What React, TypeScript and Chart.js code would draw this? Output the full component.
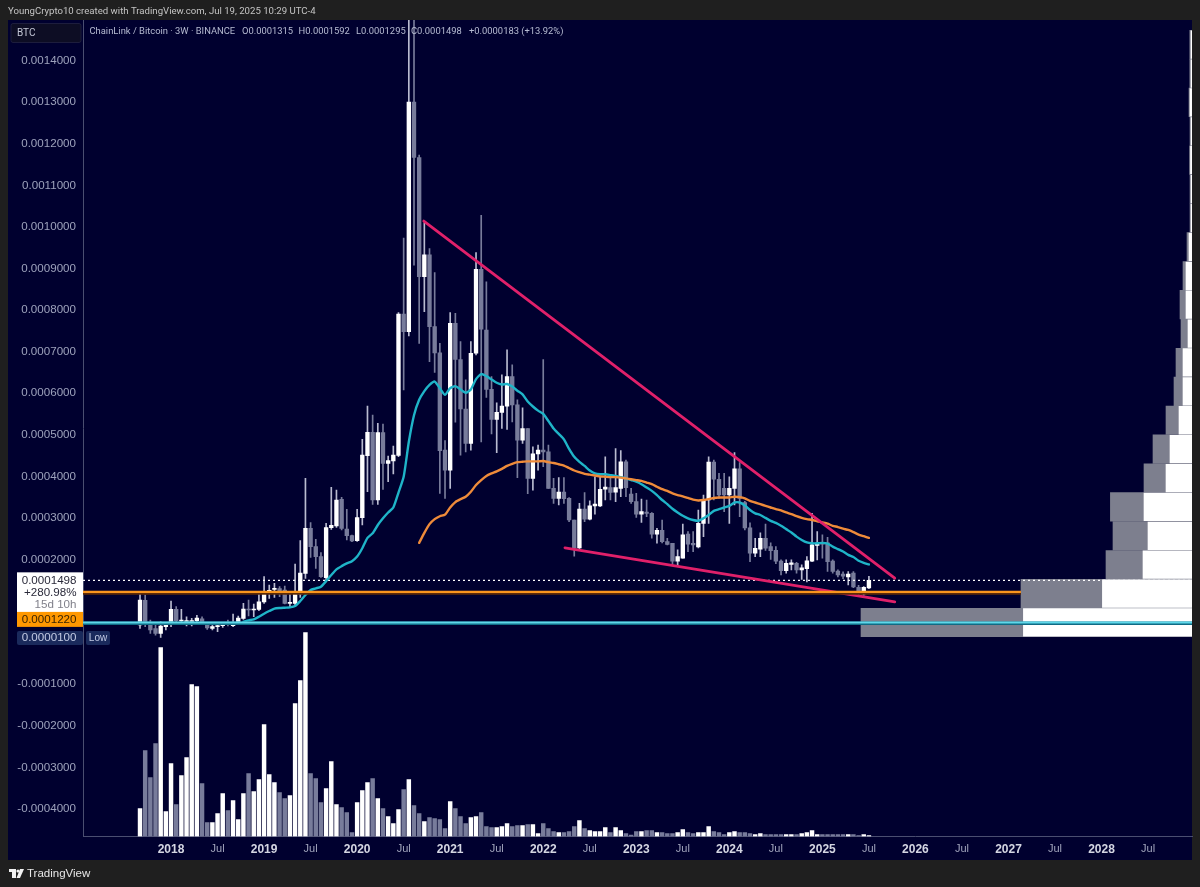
import React, { useEffect, useRef } from "react";
import { Chart, registerables } from "chart.js";

Chart.register(...registerables);

// all prices are in units of 0.0001 BTC, one entry per 3W candle
const opens = [
    0.423, 1.016, 0.447, 0.335, 0.223, 0.383, 0.463, 0.8, 0.519, 0.503,
    0.503, 0.527, 0.575, 0.447, 0.343, 0.383, 0.407, 0.463, 0.407, 0.503,
    0.584, 0.808, 0.784, 0.8, 0.976, 1.233, 1.281, 1.297, 1.265, 0.944,
    0.944, 1.169, 1.666, 2.749, 2.308, 2.067, 1.562, 2.765, 2.805, 3.446,
    2.733, 2.572, 2.452, 3.005, 4.497, 5.058, 3.43, 5.05, 4.312, 4.369,
    4.5, 7.9, 7.48, 13.0, 11.67, 8.8, 9.33, 7.6, 6.97, 4.63,
    4.15, 7.68, 6.81, 5.62, 4.79, 6.96, 8.98, 7.52, 6.09, 5.37,
    5.54, 5.69, 6.4, 5.72, 4.87, 5.15, 3.95, 4.54, 4.63, 4.59,
    3.71, 3.47, 3.62, 3.47, 2.95, 2.28, 3.21, 2.97, 3.29, 3.29,
    3.69, 3.73, 3.62, 3.71, 4.35, 3.57, 3.39, 3.09, 3.14, 3.11,
    2.61, 2.7, 2.43, 2.39, 1.96, 2.03, 2.61, 2.39, 2.3, 2.87,
    3.43, 4.34, 3.93, 3.71, 3.55, 3.71, 4.18, 3.37, 2.76, 2.15,
    2.25, 2.51, 2.31, 2.22, 1.96, 1.73, 1.88, 1.91, 1.75, 1.78,
    1.96, 2.34, 2.4, 2.4, 1.96, 1.72, 1.65, 1.58, 1.67, 1.33,
    1.17, 1.315,
];
const closes = [
    1.024, 0.503, 0.303, 0.223, 0.399, 0.423, 0.8, 0.527, 0.543, 0.527,
    0.527, 0.592, 0.479, 0.351, 0.383, 0.407, 0.439, 0.439, 0.447, 0.592,
    0.808, 0.784, 0.808, 0.984, 1.225, 1.257, 1.305, 1.249, 0.944, 0.968,
    1.169, 1.674, 2.749, 2.308, 2.067, 1.586, 2.765, 2.821, 3.43, 2.749,
    2.572, 2.444, 3.005, 4.513, 5.058, 3.43, 5.05, 4.312, 4.377, 4.513,
    7.9, 7.48, 13.0, 11.67, 8.8, 9.33, 7.6, 6.97, 4.62, 4.15,
    7.68, 6.81, 5.62, 4.79, 6.96, 8.98, 7.54, 6.09, 5.37, 5.54,
    5.69, 6.4, 5.72, 4.87, 5.15, 3.95, 4.54, 4.63, 4.59, 3.71,
    3.47, 3.62, 3.46, 2.95, 2.27, 3.21, 2.97, 3.29, 3.33, 3.69,
    3.74, 3.61, 3.73, 4.35, 3.73, 3.39, 3.09, 3.15, 3.11, 2.61,
    2.7, 2.43, 2.36, 1.96, 2.07, 2.59, 2.37, 2.35, 2.87, 3.43,
    4.34, 3.93, 3.55, 3.55, 3.71, 4.18, 3.47, 2.76, 2.15, 2.27,
    2.51, 2.27, 2.21, 1.96, 1.73, 1.91, 1.92, 1.75, 1.8, 1.97,
    2.35, 2.39, 2.37, 1.95, 1.71, 1.63, 1.6, 1.65, 1.34, 1.19,
    1.33, 1.498,
];
const highs = [
    1.209, 1.145, 0.543, 0.423, 0.503, 0.447, 1.0, 0.864, 0.8, 0.623,
    0.583, 0.656, 0.623, 0.479, 0.423, 0.447, 0.463, 0.543, 0.688, 0.64,
    0.944, 1.024, 0.928, 1.185, 1.586, 1.385, 1.425, 1.345, 1.361, 1.169,
    1.891, 2.452, 3.952, 2.885, 2.484, 2.163, 2.869, 3.735, 3.671, 3.494,
    3.206, 2.588, 3.206, 4.89, 5.692, 5.475, 5.275, 5.259, 4.489, 4.729,
    7.94, 9.73, 15.5, 15.5, 11.73, 10.1, 9.48, 8.9, 7.2, 4.86,
    7.94, 7.92, 7.24, 6.32, 7.24, 9.38, 10.28, 8.68, 6.4, 5.77,
    6.44, 7.04, 6.68, 5.84, 5.65, 5.15, 4.71, 4.75, 6.81, 4.75,
    3.95, 3.97, 3.97, 3.49, 2.95, 3.35, 3.61, 3.41, 3.99, 3.98,
    4.47, 3.99, 4.67, 4.62, 4.39, 3.71, 3.59, 3.45, 3.43, 3.13,
    2.75, 2.95, 2.51, 2.39, 2.23, 2.85, 2.67, 2.67, 3.19, 3.55,
    4.47, 4.39, 4.07, 4.07, 3.99, 4.57, 4.33, 3.4, 2.88, 2.51,
    2.64, 2.85, 2.4, 2.31, 1.99, 1.99, 1.99, 1.93, 1.87, 2.07,
    3.11, 2.67, 2.59, 2.53, 1.99, 1.75, 1.7, 1.71, 1.71, 1.38,
    1.35, 1.592,
];
const lows = [
    0.343, 0.383, 0.223, 0.182, 0.126, 0.303, 0.383, 0.503, 0.503, 0.399,
    0.399, 0.479, 0.447, 0.319, 0.303, 0.263, 0.367, 0.399, 0.383, 0.479,
    0.559, 0.64, 0.623, 0.768, 0.944, 1.065, 1.089, 1.105, 0.928, 0.864,
    0.88, 1.089, 1.546, 2.051, 1.786, 1.57, 1.506, 2.725, 2.773, 2.709,
    2.468, 2.428, 2.436, 2.829, 3.631, 3.326, 3.326, 3.687, 3.871, 4.056,
    4.47, 6.08, 7.38, 9.08, 7.2, 7.96, 6.76, 6.5, 3.59, 3.47,
    3.71, 5.3, 4.51, 4.59, 4.63, 6.92, 4.83, 5.9, 5.02, 4.57,
    5.15, 5.13, 5.31, 3.97, 4.79, 3.58, 3.67, 4.15, 4.23, 3.71,
    3.35, 3.31, 3.35, 2.91, 2.08, 2.21, 2.91, 2.95, 3.09, 3.27,
    3.43, 3.43, 3.39, 3.51, 3.51, 3.35, 3.01, 2.89, 3.03, 2.51,
    2.39, 2.4, 2.35, 1.87, 1.83, 2.03, 2.19, 2.19, 2.28, 2.55,
    2.87, 3.43, 3.47, 3.15, 2.87, 3.31, 3.03, 2.71, 1.95, 2.07,
    2.07, 2.22, 2.0, 1.9, 1.63, 1.67, 1.75, 1.67, 1.52, 1.46,
    1.95, 1.99, 2.03, 1.71, 1.67, 1.58, 1.54, 1.39, 1.32, 1.15,
    1.14, 1.295,
];
const volumes = [
    28, 86, 59, 93, 189, 25, 73, 32, 61, 79, 152, 150, 53, 14, 14, 23, 43, 26, 36, 17,
    43, 63, 45, 57, 112, 62, 54, 44, 38, 41, 133, 156, 204, 63, 58, 34, 48, 75, 32, 29,
    24, 4, 34, 46, 54, 58, 38, 28, 20, 13, 27, 47, 57, 31, 23, 15, 19, 18, 17, 8,
    35, 28, 20, 13, 19, 20, 24, 10, 9, 9, 10, 13, 10, 11, 11, 12, 12, 3, 13, 8,
    5, 4, 4, 5, 10, 16, 8, 6, 5, 5, 9, 4, 9, 6, 3, 1.5, 5, 5, 6, 6,
    4, 4, 3, 3, 4, 7, 4, 3, 4, 4, 10, 5, 4, 2, 4, 5, 4, 4, 3, 2,
    3, 2, 2, 2, 2, 2, 2, 2, 3, 4, 6, 2, 2, 2, 2, 2, 2, 2, 2, 1,
    2, 1,
];

// starts at candle 20
const tealAverage = [
    0.503, 0.535, 0.559, 0.623, 0.696, 0.76, 0.816, 0.832, 0.84, 0.848,
    0.88, 1.0, 1.145, 1.265, 1.305, 1.345, 1.48, 1.626, 1.762, 1.84,
    1.906, 1.96, 2.07, 2.27, 2.52, 2.63, 2.83, 2.99, 3.13, 3.25,
    3.61, 3.99, 4.83, 5.47, 5.84, 6.05, 6.2, 6.28, 6.12, 5.96,
    6.12, 6.17, 6.09, 6.01, 6.09, 6.34, 6.46, 6.41, 6.33, 6.25,
    6.21, 6.22, 6.16, 6.06, 5.97, 5.8, 5.68, 5.58, 5.5, 5.33,
    5.15, 5.02, 4.89, 4.66, 4.47, 4.35, 4.25, 4.14, 4.07, 4.05,
    4.05, 4.03, 4.01, 3.98, 3.95, 3.91, 3.87, 3.81, 3.73, 3.65,
    3.55, 3.43, 3.33, 3.22, 3.13, 3.05, 2.99, 2.95, 2.93, 2.99,
    3.07, 3.17, 3.21, 3.25, 3.29, 3.37, 3.37, 3.3, 3.19, 3.11,
    3.07, 3.0, 2.93, 2.88, 2.81, 2.73, 2.65, 2.55, 2.47, 2.41,
    2.39, 2.39, 2.4, 2.38, 2.31, 2.25, 2.19, 2.11, 2.06, 1.97,
    1.92, 1.88,
];
const tealStart = 20;

// starts at candle 54
const orangeAverage = [
    2.4, 2.64, 2.85, 2.97, 3.04, 3.08, 3.25, 3.38, 3.45, 3.51,
    3.63, 3.79, 3.91, 4.01, 4.07, 4.12, 4.18, 4.25, 4.3, 4.34,
    4.35, 4.36, 4.36, 4.36, 4.37, 4.34, 4.32, 4.29, 4.26, 4.2,
    4.14, 4.1, 4.06, 4.04, 4.02, 4.0, 3.99, 3.98, 3.98, 3.97,
    3.95, 3.93, 3.91, 3.89, 3.85, 3.81, 3.75, 3.69, 3.65, 3.59,
    3.55, 3.52, 3.48, 3.44, 3.42, 3.43, 3.45, 3.48, 3.49, 3.49,
    3.49, 3.51, 3.5, 3.47, 3.41, 3.37, 3.33, 3.29, 3.25, 3.21,
    3.18, 3.13, 3.09, 3.04, 3.0, 2.97, 2.95, 2.92, 2.89, 2.86,
    2.81, 2.78, 2.74, 2.71, 2.66, 2.6, 2.56, 2.52,
];
const orangeStart = 54;

const trendUpperX = [54.9, 146];
const trendUpperY = [10.14, 1.55];
const trendLowerX = [82.2, 146];
const trendLowerY = [2.28, 0.98];

const lastPrice = 1.498;
const orangeLevel = 1.22;
const orangeLevelEnd = 170.4;
const tealLevel = 0.484;

// volume by price rows, bottom to top
const profileRows = [
    0.484, 1.179, 1.874, 2.569, 3.264, 3.959, 4.654, 5.349, 6.044, 6.739, 7.434,
    8.129, 8.824, 9.519, 10.214, 10.909, 11.604, 12.299, 12.994, 13.689, 14.384,
];
const profileTotal = [331, 171, 86, 79, 81.6, 48, 39, 26, 18, 16, 11, 12, 9, 5, 2, 2, 2.5, 2, 3, 2.2, 2.2];
const profileUp = [168.6, 89.6, 49, 44, 48, 26, 22, 13, 9, 9, 4, 6, 6, 3, 1, 1, 1.5, 1, 2, 1, 1];

const yTickValues = [-4, -3, -2, -1, 2, 3, 4, 5, 6, 7, 8, 9, 10, 11, 12, 13, 14];
const xTickValues = [
    6, 15, 24, 33, 42, 51, 60, 69, 78, 87, 96, 105, 114, 123, 132, 141, 150, 159, 168, 177, 186, 195,
];
const xTickLabels = [
    "2018", "Jul", "2019", "Jul", "2020", "Jul", "2021", "Jul", "2022", "Jul", "2023",
    "Jul", "2024", "Jul", "2025", "Jul", "2026", "Jul", "2027", "Jul", "2028", "Jul",
];

const NAVY = "#00002f";
const FRAME = "#1f1f1f";
const UP = "#ffffff";
const DOWN = "#787c9b";
const FONT = '"Liberation Sans", Arial, sans-serif';
const HEAD_FONT = 'Roboto, "Liberation Sans", sans-serif';

const text = (
    ctx: CanvasRenderingContext2D,
    str: string,
    x: number,
    y: number,
    color: string,
    size = 11,
    align: CanvasTextAlign = "left",
    family = FONT
) => {
    ctx.font = `400 ${size}px ${family}`;
    ctx.fillStyle = color;
    ctx.textAlign = align;
    ctx.textBaseline = "middle";
    ctx.fillText(str, x, y);
};

const framePlugin = {
    id: "frame",
    beforeDraw(chart: any) {
        const ctx = chart.ctx;
        ctx.save();
        ctx.fillStyle = FRAME;
        ctx.fillRect(0, 0, chart.width, chart.height);
        ctx.fillStyle = NAVY;
        ctx.fillRect(8, 20, 1184, 840);
        ctx.restore();
    },
    afterDraw(chart: any) {
        const ctx = chart.ctx;
        const y = chart.scales.y;
        ctx.save();

        text(ctx, "YoungCrypto10 created with TradingView.com, Jul 19, 2025 10:29 UTC-4", 8, 12, "#c4c4c4", 9.6, "left", HEAD_FONT);

        // symbol box
        ctx.fillStyle = "#0d0d24";
        ctx.strokeStyle = "#1d1d3d";
        ctx.beginPath();
        ctx.roundRect(11, 23.5, 70, 19, 2);
        ctx.fill();
        ctx.stroke();
        text(ctx, "BTC", 17, 33, "#c4c7d6", 10, "left", HEAD_FONT);

        // legend line
        const legendColor = "#b6bbd2";
        text(ctx, "ChainLink / Bitcoin · 3W · BINANCE", 89.5, 32, legendColor, 9.4, "left", HEAD_FONT);
        text(ctx, "O0.0001315", 242, 32, legendColor, 9.4, "left", HEAD_FONT);
        text(ctx, "H0.0001592", 298.5, 32, legendColor, 9.4, "left", HEAD_FONT);
        text(ctx, "L0.0001295", 356, 32, legendColor, 9.4, "left", HEAD_FONT);
        text(ctx, "C0.0001498", 411, 32, legendColor, 9.4, "left", HEAD_FONT);
        text(ctx, "+0.0000183 (+13.92%)", 469, 32, legendColor, 9.4, "left", HEAD_FONT);

        // last price tag
        const lastY = y.getPixelForValue(lastPrice);
        ctx.fillStyle = "#ffffff";
        ctx.fillRect(17, lastY - 8, 66, 39.7);
        text(ctx, "0.0001498", 76.5, lastY, "#2a2a3a", 11.6, "right");
        text(ctx, "+280.98%", 76.5, lastY + 12, "#2a2a3a", 11.6, "right");
        text(ctx, "15d 10h", 76.5, lastY + 24, "#80808a", 11.6, "right");

        // orange level tag
        const orangeY = y.getPixelForValue(orangeLevel);
        ctx.fillStyle = "#ff9800";
        ctx.fillRect(17, orangeY + 20, 66, 15);
        text(ctx, "0.0001220", 76.5, orangeY + 27.5, "#3a2400", 11.6, "right");

        // low tag
        ctx.fillStyle = "#1a2a5c";
        ctx.beginPath();
        ctx.roundRect(17, 631, 66, 14, 2);
        ctx.fill();
        ctx.beginPath();
        ctx.roundRect(86, 631, 24, 14, 2);
        ctx.fill();
        text(ctx, "0.0000100", 76.5, 638, "#c3cbe4", 11.6, "right");
        text(ctx, "Low", 98, 638, "#c3cbe4", 10, "center");

        // bottom logo and name
        ctx.fillStyle = "#f2f2f2";
        ctx.fillRect(9, 869, 7, 3);
        ctx.fillRect(12, 869, 4, 9);
        ctx.beginPath();
        ctx.arc(18, 871, 1.6, 0, Math.PI * 2);
        ctx.fill();
        ctx.beginPath();
        ctx.moveTo(20, 869);
        ctx.lineTo(24, 869);
        ctx.lineTo(20, 878);
        ctx.lineTo(16.5, 878);
        ctx.closePath();
        ctx.fill();
        text(ctx, "TradingView", 27, 873.5, "#e6e6e6", 11.5);

        ctx.restore();
    },
};

export default function App() {
    const ref = useRef<HTMLCanvasElement | null>(null);

    useEffect(() => {
        if (!ref.current) return;

        const idx = opens.map((_, i) => i);
        const isUp = (i: number) => closes[i] >= opens[i];
        const xMin = -11.03;
        const xMax = 203.5;

        const chart = new Chart(ref.current, {
            type: "bar",
            data: {
                datasets: [
                    // horizontal levels
                    {
                        type: "line",
                        data: [{ x: xMin, y: tealLevel }, { x: xMax, y: tealLevel }],
                        borderColor: "#5fd8ea",
                        borderWidth: 2,
                        pointRadius: 0,
                        order: 0,
                    },
                    {
                        type: "line",
                        data: [{ x: xMin, y: tealLevel - 0.02 }, { x: xMax, y: tealLevel - 0.02 }],
                        borderColor: "#0f6b85",
                        borderWidth: 3.5,
                        pointRadius: 0,
                        order: 1,
                    },
                    {
                        type: "line",
                        data: [{ x: xMin, y: orangeLevel }, { x: orangeLevelEnd, y: orangeLevel }],
                        borderColor: "#f9951e",
                        borderWidth: 2.4,
                        pointRadius: 0,
                        order: 2,
                    },
                    {
                        type: "line",
                        data: [{ x: xMin, y: orangeLevel - 0.025 }, { x: orangeLevelEnd, y: orangeLevel - 0.025 }],
                        borderColor: "#5c2a08",
                        borderWidth: 3.5,
                        pointRadius: 0,
                        order: 3,
                    },
                    {
                        type: "line",
                        data: trendUpperX.map((x, i) => ({ x, y: trendUpperY[i] })),
                        borderColor: "#e0206a",
                        borderWidth: 2.8,
                        borderCapStyle: "round",
                        pointRadius: 0,
                        order: 4,
                    },
                    {
                        type: "line",
                        data: trendLowerX.map((x, i) => ({ x, y: trendLowerY[i] })),
                        borderColor: "#e0206a",
                        borderWidth: 2.8,
                        borderCapStyle: "round",
                        pointRadius: 0,
                        order: 5,
                    },
                    {
                        type: "line",
                        data: orangeAverage.map((y, i) => ({ x: orangeStart + i, y })),
                        borderColor: "#ef8b3a",
                        borderWidth: 2.4,
                        borderCapStyle: "round",
                        pointRadius: 0,
                        tension: 0.2,
                        order: 6,
                    },
                    {
                        type: "line",
                        data: tealAverage.map((y, i) => ({ x: tealStart + i, y })),
                        borderColor: "#1fb4c8",
                        borderWidth: 2.4,
                        borderCapStyle: "round",
                        pointRadius: 0,
                        tension: 0.2,
                        order: 7,
                    },
                    {
                        type: "line",
                        data: [{ x: xMin, y: lastPrice }, { x: xMax, y: lastPrice }],
                        borderColor: "#ffffff",
                        borderWidth: 1.2,
                        borderDash: [2, 3],
                        pointRadius: 0,
                        order: 8,
                    },
                    // candles
                    {
                        data: idx.map((i) => ({ x: i, y: [opens[i], closes[i]] })),
                        backgroundColor: idx.map((i) => (isUp(i) ? UP : DOWN)),
                        barThickness: 3.7,
                        grouped: false,
                        order: 9,
                    },
                    {
                        data: idx.map((i) => ({ x: i, y: [lows[i], highs[i]] })),
                        backgroundColor: idx.map((i) => (isUp(i) ? "#b9bbd0" : DOWN)),
                        barThickness: 1,
                        grouped: false,
                        order: 10,
                    },
                    // volume
                    {
                        data: idx.map((i) => ({ x: i, y: volumes[i] })),
                        yAxisID: "yVol",
                        backgroundColor: idx.map((i) => (isUp(i) ? UP : DOWN)),
                        barThickness: 3.8,
                        grouped: false,
                        order: 11,
                    },
                    // volume by price
                    {
                        indexAxis: "y",
                        xAxisID: "xProfile",
                        data: profileRows.map((y, i) => ({ x: [0, profileUp[i]], y })),
                        backgroundColor: "#ffffff",
                        barThickness: 27.6,
                        grouped: false,
                        order: 12,
                    },
                    {
                        indexAxis: "y",
                        xAxisID: "xProfile",
                        data: profileRows.map((y, i) => ({ x: [0, profileTotal[i]], y })),
                        backgroundColor: "#7d7f8e",
                        barThickness: 28.5,
                        grouped: false,
                        order: 13,
                    },
                ] as any,
            },
            options: {
                responsive: false,
                animation: false,
                devicePixelRatio: 1,
                layout: { padding: { left: 8, right: 8, top: 20, bottom: 27 } },
                plugins: {
                    legend: { display: false },
                    tooltip: { enabled: false },
                },
                scales: {
                    x: {
                        type: "linear",
                        offset: false,
                        min: xMin,
                        max: xMax,
                        grid: { display: false, drawTicks: false },
                        border: { color: "#4a4e70" },
                        afterFit: (axis: any) => {
                            axis.height = 23.5;
                        },
                        afterBuildTicks: (axis: any) => {
                            axis.ticks = xTickValues.map((value) => ({ value }));
                        },
                        ticks: {
                            autoSkip: false,
                            maxRotation: 0,
                            padding: 6,
                            callback: (_v: any, i: number) => xTickLabels[i],
                            color: (c: any) => (xTickLabels[c.index] === "Jul" ? "#a0a4bc" : "#d4d6e2"),
                            font: (c: any) =>
                                xTickLabels[c.index] === "Jul"
                                    ? { family: FONT, size: 11, weight: "400" }
                                    : { family: FONT, size: 12, weight: "700" },
                        },
                    },
                    y: {
                        type: "linear",
                        offset: false,
                        min: -4.664,
                        max: 14.977,
                        grid: { display: false, drawTicks: false },
                        border: { color: "#4a4e70" },
                        afterFit: (axis: any) => {
                            axis.width = 75;
                        },
                        afterBuildTicks: (axis: any) => {
                            axis.ticks = yTickValues.map((value) => ({ value }));
                        },
                        ticks: {
                            padding: 7,
                            color: "#9da2bc",
                            font: { family: FONT, size: 11.6 },
                            callback: (v: any) => {
                                const s = (Math.abs(v) * 0.0001).toFixed(7);
                                return v < 0 ? `-${s}` : s;
                            },
                        },
                    },
                    yVol: { type: "linear", display: false, offset: false, min: 0, max: 816.5 },
                    xProfile: { type: "linear", axis: "x", display: false, offset: false, reverse: true, min: 0, max: 1109 },
                },
            } as any,
            plugins: [framePlugin],
        });

        return () => chart.destroy();
    }, []);

    return (
        <div style={{ position: "fixed", left: 0, top: 0, width: 1200, height: 887 }}>
            <canvas ref={ref} width={1200} height={887} style={{ display: "block" }} />
        </div>
    );
}
